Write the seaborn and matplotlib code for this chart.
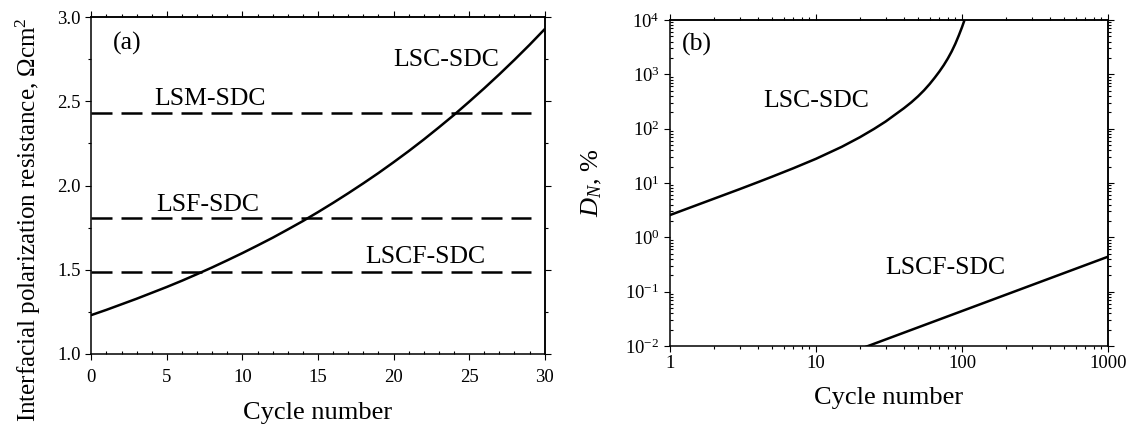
import matplotlib
matplotlib.use("Agg")
import matplotlib.pyplot as plt
import pandas as pd
import seaborn as sns
from matplotlib.ticker import (MultipleLocator, LogLocator, FuncFormatter,
                               NullFormatter, LogFormatterSciNotation,
                               FormatStrFormatter)

# ---- panel (a): interfacial polarization resistance vs. cycle number ----
cycles_a = list(range(0, 31))
lsc_resistance = [1.231, 1.262, 1.295, 1.328, 1.363, 1.398, 1.435, 1.474,
                  1.514, 1.556, 1.599, 1.644, 1.690, 1.739, 1.789, 1.842,
                  1.897, 1.954, 2.013, 2.074, 2.138, 2.204, 2.273, 2.345,
                  2.419, 2.497, 2.577, 2.660, 2.746, 2.835, 2.928]
ref_names = ["LSM-SDC", "LSF-SDC", "LSCF-SDC"]
ref_resistance = [2.43, 1.805, 1.485]
ref_span = [0, 29.1]

# ---- panel (b): degradation D_N vs. cycle number (log-log) ----
cycles_lsc = [1, 2, 3, 4, 5, 7, 10, 15, 20, 25, 30, 40, 45, 50, 55, 60,
              65, 70, 75, 80, 85, 90, 95, 100, 103, 105]
dn_lsc = [2.57, 5.14, 7.71, 10.35, 13.06, 18.7, 27.9, 46.3, 69.7, 99.1,
          135.5, 237.7, 306, 394, 509, 662, 865, 1127, 1476, 1959, 2642,
          3648, 5164, 7362, 9247, 10700]
cycles_lscf = [20, 100, 1000]
dn_lscf = [0.0088, 0.044, 0.44]

sns.set_style("ticks")
plt.rcParams.update({
    "font.family": ["Liberation Serif", "DejaVu Serif"],
    "mathtext.fontset": "custom",
    "mathtext.rm": "Liberation Serif",
    "mathtext.it": "Liberation Serif:italic",
    "mathtext.bf": "Liberation Serif:bold",
    "axes.unicode_minus": False,
    "axes.linewidth": 1.1,
    "axes.edgecolor": "black",
    "axes.labelcolor": "black",
    "text.color": "black",
    "xtick.color": "black",
    "ytick.color": "black",
})

TICK_FS = 13.5
LABEL_FS = 19
NOTE_FS = 18.5
LW = 1.8

W, H = 1131, 429
fig = plt.figure(figsize=(W / 100, H / 100), dpi=100)
ax1 = fig.add_axes([91.3 / W, 1 - 354 / H, 453.4 / W, 337 / H])
ax2 = fig.add_axes([670 / W, 1 - 346 / H, 438 / W, 326 / H])


def style_ticks(ax, pad_x, pad_y, xminor_dir, yminor_dir):
    ax.tick_params(which="major", direction="out", length=4.0, width=0.8,
                   labelsize=TICK_FS)
    ax.tick_params(axis="x", which="major", pad=pad_x)
    ax.tick_params(axis="y", which="major", pad=pad_y)
    ax.tick_params(axis="x", which="minor", direction=xminor_dir,
                   length=2.4, width=0.8)
    ax.tick_params(axis="y", which="minor", direction=yminor_dir,
                   length=2.4, width=0.8)
    ax.tick_params(which="both", top=False, right=False)


def mirror_ticks(ax, xmajor, xminor, ymajor, yminor):
    top = ax.secondary_xaxis("top")
    right = ax.secondary_yaxis("right")
    for sec, axis, major, minor in ((top, top.xaxis, xmajor, xminor),
                                    (right, right.yaxis, ymajor, yminor)):
        axis.set_major_locator(major)
        axis.set_minor_locator(minor)
        sec.tick_params(which="major", direction="out", length=4.0, width=0.8)
        sec.tick_params(which="minor", direction="out", length=2.4, width=0.8)
        axis.set_major_formatter(NullFormatter())
        axis.set_minor_formatter(NullFormatter())


# ---------------- panel (a) ----------------
df_a = pd.DataFrame({"cycle": cycles_a, "R": lsc_resistance})
sns.lineplot(data=df_a, x="cycle", y="R", ax=ax1, color="black", lw=LW)
for level in ref_resistance:
    df_ref = pd.DataFrame({"cycle": ref_span, "R": [level, level]})
    sns.lineplot(data=df_ref, x="cycle", y="R", ax=ax1, color="black",
                 lw=LW, linestyle=(0, (8.4, 3.6)))

ax1.set_xlim(0, 30)
ax1.set_ylim(1.0, 3.0)
ax1.xaxis.set_major_locator(MultipleLocator(5))
ax1.xaxis.set_minor_locator(MultipleLocator(1))
ax1.yaxis.set_major_locator(MultipleLocator(0.5))
ax1.yaxis.set_minor_locator(MultipleLocator(0.25))
ax1.yaxis.set_major_formatter(FormatStrFormatter("%.1f"))
style_ticks(ax1, pad_x=7, pad_y=3.5, xminor_dir="in", yminor_dir="out")

ax1.set_xlabel("Cycle number", fontsize=LABEL_FS)
ax1.set_ylabel("Interfacial polarization resistance, \u03a9cm$^2$",
               fontsize=18, va="center")
ax1.xaxis.set_label_coords(0.5, -0.142)
ax1.yaxis.set_label_coords(-0.139, 0.40)

mirror_ticks(ax1, MultipleLocator(5), MultipleLocator(1),
             MultipleLocator(0.5), MultipleLocator(0.25))

ax1.text(1.44, 2.804, "(a)", fontsize=NOTE_FS, va="baseline", ha="left")
ax1.text(19.97, 2.711, "LSC-SDC", fontsize=NOTE_FS, va="baseline", ha="left")
ax1.text(4.2, 2.480, ref_names[0], fontsize=NOTE_FS, va="baseline", ha="left")
ax1.text(4.3, 1.847, ref_names[1], fontsize=NOTE_FS, va="baseline", ha="left")
ax1.text(18.1, 1.540, ref_names[2], fontsize=NOTE_FS, va="baseline", ha="left")

# ---------------- panel (b) ----------------
ax2.set_xscale("log")
ax2.set_yscale("log")
df_lsc = pd.DataFrame({"cycle": cycles_lsc, "D": dn_lsc})
df_lscf = pd.DataFrame({"cycle": cycles_lscf, "D": dn_lscf})
sns.lineplot(data=df_lsc, x="cycle", y="D", ax=ax2, color="black", lw=LW)
sns.lineplot(data=df_lscf, x="cycle", y="D", ax=ax2, color="black", lw=LW)

ax2.set_xlim(1, 1000)
ax2.set_ylim(1e-2, 1e4)
ax2.xaxis.set_major_locator(LogLocator(base=10, numticks=20))
ax2.xaxis.set_minor_locator(LogLocator(base=10, subs=range(2, 10), numticks=20))
ax2.xaxis.set_major_formatter(FuncFormatter(lambda v, p: f"{v:g}"))
ax2.xaxis.set_minor_formatter(NullFormatter())
ax2.yaxis.set_major_locator(LogLocator(base=10, numticks=20))
ax2.yaxis.set_minor_locator(LogLocator(base=10, subs=range(2, 10), numticks=20))
ax2.yaxis.set_major_formatter(LogFormatterSciNotation())
ax2.yaxis.set_minor_formatter(NullFormatter())
style_ticks(ax2, pad_x=2.5, pad_y=3.5, xminor_dir="out", yminor_dir="in")

ax2.set_xlabel("Cycle number", fontsize=LABEL_FS)
ax2.set_ylabel("$D_N$, %", fontsize=LABEL_FS, va="center")
ax2.xaxis.set_label_coords(0.5, -0.126)
ax2.yaxis.set_label_coords(-0.178, 0.5)

mirror_ticks(ax2,
             LogLocator(base=10, numticks=20),
             LogLocator(base=10, subs=range(2, 10), numticks=20),
             LogLocator(base=10, numticks=20),
             LogLocator(base=10, subs=range(2, 10), numticks=20))

ax2.text(1.203, 2690, "(b)", fontsize=NOTE_FS, va="baseline", ha="left")
ax2.text(4.36, 247, "LSC-SDC", fontsize=NOTE_FS, va="baseline", ha="left")
ax2.text(29.7, 0.21, "LSCF-SDC", fontsize=NOTE_FS, va="baseline", ha="left")

fig.savefig("out.png", dpi=100, facecolor="white")
